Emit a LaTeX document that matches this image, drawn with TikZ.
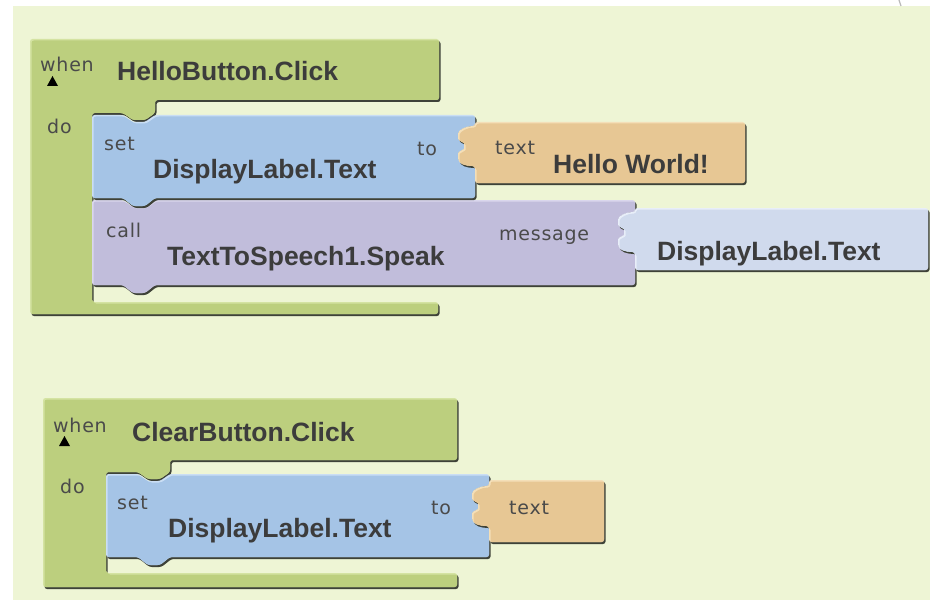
\documentclass[tikz,border=0pt]{standalone}
\usepackage{fontspec}
\newfontfamily\blockbold{Liberation Sans}
\newfontfamily\blocklabel{DejaVu Sans}[LetterSpace=4]
\definecolor{panelc}{HTML}{EEF5D5}
\definecolor{greenc}{HTML}{BCCF7E}
\definecolor{greenl}{HTML}{D4E3A2}
\definecolor{bluec}{HTML}{A5C4E6}
\definecolor{bluel}{HTML}{CADEF4}
\definecolor{purplec}{HTML}{C1BDDB}
\definecolor{purplel}{HTML}{DAD7ED}
\definecolor{orangec}{HTML}{E7C794}
\definecolor{orangel}{HTML}{F4DFB8}
\definecolor{lbluec}{HTML}{D0DAED}
\definecolor{lbluel}{HTML}{E8EEF9}
\definecolor{shadowc}{HTML}{3E4238}
\definecolor{txtdark}{HTML}{3C3C3C}
\definecolor{txtgrey}{HTML}{4A4A4A}
\tikzset{
  bigtxt/.style={anchor=base west, inner sep=0pt, text=txtdark,
    font=\blockbold\bfseries\fontsize{26.5}{30}\selectfont},
  smalltxt/.style={anchor=base west, inner sep=0pt, text=txtgrey,
    font=\blocklabel\fontsize{19}{22}\selectfont}
}
% puzzle socket / plug, going downward 40 units, 17 deep to the left
\newcommand\sock{.. controls +(-9,0) and +(0,-6) .. ++(-17,10) .. controls +(0,5) and +(0,-4) .. ++(6,10) .. controls +(0,4) and +(0,-5) .. ++(-6,10) .. controls +(0,8) and +(-9,0) .. ++(17,10)}
\newcommand\pGreenA{(30,39) -- (439,39) -- (439,100) -- (155,100) -- (155,113) -- (145,120) -- (133,120) -- (123,113) -- (92,113) -- (92,302) -- (438,302) -- (438,314) -- (30,314) -- cycle}
\newcommand\pBlueA{(92,115) -- (123,115) -- (133,122) -- (145,122) -- (155,115) -- (475,115) -- (475,126) \sock -- (475,198) -- (155,198) -- (145,206) -- (133,206) -- (123,198) -- (92,198) -- cycle}
\newcommand\pOrangeA{(745,122) -- (475,122) -- (475,126) \sock -- (475,183) -- (745,183) -- cycle}
\newcommand\pPurpleA{(92,200) -- (123,200) -- (133,207) -- (145,207) -- (155,200) -- (635,200) -- (635,212) \sock -- (635,285) -- (155,285) -- (145,293) -- (133,293) -- (123,285) -- (92,285) -- cycle}
\newcommand\pLblueA{(928,208) -- (635,208) -- (635,212) \sock -- (635,270) -- (928,270) -- cycle}
\newcommand\pGreenB{(43,398) -- (457,398) -- (457,460) -- (170,460) -- (170,472) -- (160,479) -- (148,479) -- (138,472) -- (106,472) -- (106,573) -- (457,573) -- (457,587) -- (43,587) -- cycle}
\newcommand\pBlueB{(106,474) -- (138,474) -- (148,481) -- (160,481) -- (170,474) -- (489,474) -- (489,486) \sock -- (489,557) -- (170,557) -- (160,565) -- (148,565) -- (138,557) -- (106,557) -- cycle}
\newcommand\pOrangeB{(604,480) -- (489,480) -- (489,486) \sock -- (489,542) -- (604,542) -- cycle}
\newcommand\blockshape[3]{%
  \begin{scope}[rounded corners=2.5pt]
  \fill[shadowc, shift={(1.5,2)}] #3;
  \fill[#2] #3;
  \begin{scope}
    \clip #3;
    \fill[#1, shift={(1.5,1.5)}] #3;
  \end{scope}
  \end{scope}}
\begin{document}
\begin{tikzpicture}[x=1pt,y=-1pt]
\useasboundingbox (0,0) rectangle (930,602);
\fill[white] (0,0) rectangle (930,602);
\fill[panelc] (13,6) rectangle (930,600);
\draw[gray!55, line width=1.2pt] (899,0) -- (901,6);

% ---- block 1
\blockshape{greenc}{greenl}{\pGreenA}
\blockshape{purplec}{purplel}{\pPurpleA}
\blockshape{bluec}{bluel}{\pBlueA}
\blockshape{orangec}{orangel}{\pOrangeA}
\blockshape{lbluec}{lbluel}{\pLblueA}

\node[smalltxt] (when1) at (40,72) {when};
\fill[black] (47,86) -- (58,86) -- (52.5,76) -- cycle;
\node[bigtxt] (ev1) at (117,81) {HelloButton.Click};
\node[smalltxt] (do1) at (47,133) {do};
\node[smalltxt] (set1) at (104,150) {set};
\node[bigtxt] (prop1) at (153,178) {DisplayLabel.Text};
\node[smalltxt] (to1) at (417,155) {to};
\node[smalltxt] (text1) at (495,154) {text};
\node[bigtxt] (hello) at (553,173) {Hello World!};
\node[smalltxt] (call1) at (106,237) {call};
\node[bigtxt] (speak) at (167,265) {TextToSpeech1.Speak};
\node[smalltxt] (msg) at (499,240) {message};
\node[bigtxt] (prop2) at (657,260) {DisplayLabel.Text};

% ---- block 2
\blockshape{greenc}{greenl}{\pGreenB}
\blockshape{bluec}{bluel}{\pBlueB}
\blockshape{orangec}{orangel}{\pOrangeB}

\node[smalltxt] (when2) at (53,432) {when};
\fill[black] (59,446) -- (70,446) -- (64.5,436) -- cycle;
\node[bigtxt] (ev2) at (132,441) {ClearButton.Click};
\node[smalltxt] (do2) at (60,493) {do};
\node[smalltxt] (set2) at (117,509) {set};
\node[bigtxt] (prop3) at (168,537) {DisplayLabel.Text};
\node[smalltxt] (to2) at (431,514) {to};
\node[smalltxt] (text2) at (509,514) {text};
\end{tikzpicture}
\end{document}
